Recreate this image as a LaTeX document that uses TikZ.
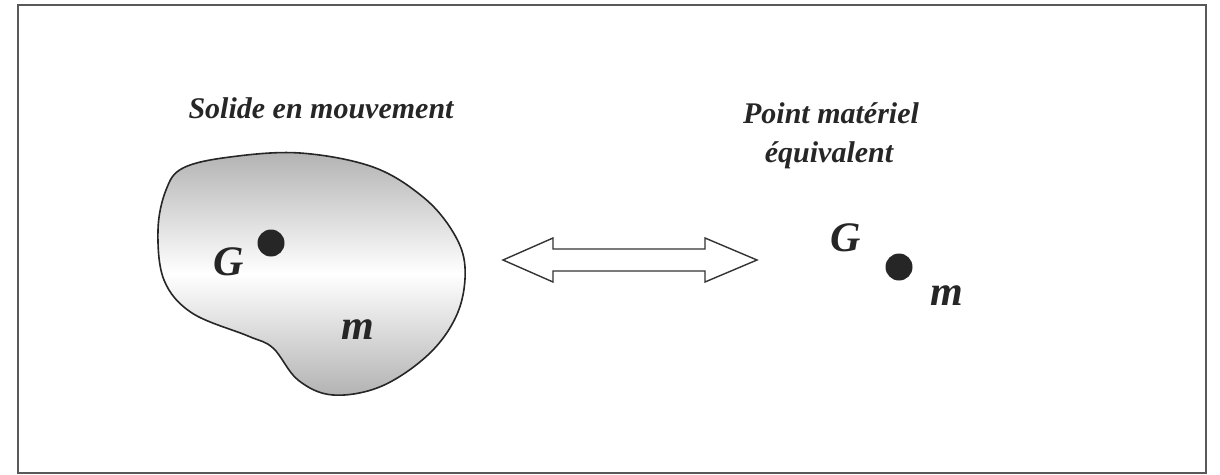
\documentclass[tikz,border=0pt]{standalone}
\usepackage{fontspec}
\setmainfont{Liberation Serif}
\begin{document}
\begin{tikzpicture}[x=1pt,y=-1pt,
  lbl/.style={inner sep=0pt, font=\fontsize{30}{36}\selectfont\bfseries\itshape, text=black!85},
  sym/.style={inner sep=0pt, font=\fontsize{42}{46}\selectfont\bfseries\itshape, text=black!85},
  masspt/.style={circle, fill=black!85, inner sep=0pt, minimum size=27pt},
  frame/.style={draw=black!65, line width=2pt},
  eqarrow/.style={draw=black!80, line width=1.4pt, fill=white, line join=miter}]
\useasboundingbox (0,0) rectangle (1220,474);
\draw[frame] (18,5) rectangle (1206,473);
% labels
\node[lbl, anchor=base] (solide) at (321,118) {Solide en mouvement};
\node[lbl, anchor=base] (point) at (831,123) {Point matériel};
\node[lbl, anchor=base] (equiv) at (829,162) {équivalent};
% blob
\path[draw=black!85, line width=1.6pt, top color=black!30, bottom color=black!30, middle color=white]
  plot[smooth cycle, tension=0.6] coordinates {
   (183,168) (230,157) (300,153) (373,167) (423,197) (453,232) (465,267)
   (458,312) (430,353) (382,386) (333,395) (298,380) (273,348) (248,336)
   (192,313) (164,280) (158,230) (166,190)};
\node[masspt] (G1) at (271,243) {};
\node[sym] (gl1) at (229,262) {G};
\node[sym] (m1) at (358,330) {m};
% double arrow
\draw[eqarrow] (503,260) -- (553,238) -- (553,249) -- (705,249) -- (705,238)
  -- (757,260) -- (705,282) -- (705,271) -- (553,271) -- (553,282) -- cycle;
% point
\node[masspt] (G2) at (899,267) {};
\node[sym] (gl2) at (846,238) {G};
\node[sym] (m2) at (947,296) {m};
\end{tikzpicture}
\end{document}
